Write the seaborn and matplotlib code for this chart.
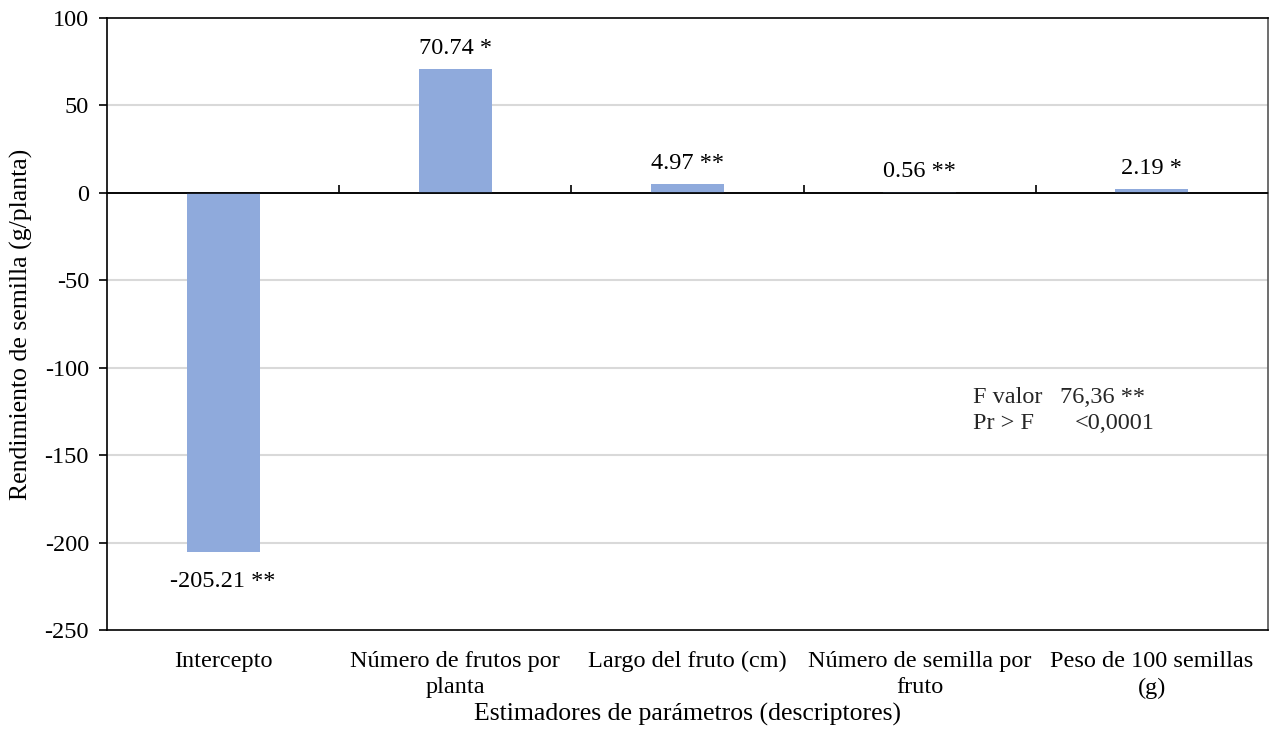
import matplotlib
matplotlib.use("Agg")
import matplotlib.pyplot as plt
import seaborn as sns
import pandas as pd
import numpy as np

# Parameter estimates of the seed-yield regression model
categories = [
    "Intercepto",
    "Número de frutos por\nplanta",
    "Largo del fruto (cm)",
    "Número de semilla por\nfruto",
    "Peso de 100 semillas\n(g)",
]
estimates = [-205.21, 70.74, 4.97, 0.56, 2.19]
significance = ["**", "*", "**", "**", "*"]

y_ticks = [100, 50, 0, -50, -100, -150, -200, -250]

sns.set_theme(style="white")
plt.rcParams["font.family"] = ["Liberation Serif", "DejaVu Serif"]

bar_color = "#8FAADC"
font_size = 17.5
label_size = 18.5

df = pd.DataFrame({"descriptor": categories, "estimate": estimates})

fig = plt.figure(figsize=(12.71, 7.38), dpi=100)
ax = fig.add_axes([0.0842, 0.1463, 0.9134, 0.8293])

# horizontal gridlines behind the bars
for yv in y_ticks:
    if yv not in (0, max(y_ticks), min(y_ticks)):
        ax.axhline(yv, color="#D9D9D9", lw=1.5, zorder=0)

sns.barplot(data=df, x="descriptor", y="estimate", color=bar_color,
            saturation=1, width=0.315, linewidth=0, ax=ax, zorder=2)

ax.set_ylim(min(y_ticks), max(y_ticks))
ax.set_xlim(-0.5, len(categories) - 0.5)
ax.set_yticks(y_ticks)
ax.set_yticklabels([str(t) for t in y_ticks], fontsize=font_size, color="black")
ax.tick_params(axis="y", direction="out", length=6, width=1.2, color="black",
               left=True, pad=7)
ax.tick_params(axis="x", length=0, pad=15, labelsize=font_size, labelcolor="black")
ax.set_xticks(range(len(categories)))
ax.set_xticklabels(categories, fontsize=font_size, linespacing=1.35)

for sp in ax.spines.values():
    sp.set_visible(True)
    sp.set_color("black")
    sp.set_linewidth(1.2)
ax.spines["right"].set_color("#555555")

# zero line drawn over the bars, with category separator ticks
ax.axhline(0, color="black", lw=1.2, zorder=3)
zero_frac = (0 - min(y_ticks)) / (max(y_ticks) - min(y_ticks))
sec = ax.secondary_xaxis(zero_frac)
sec.spines["bottom"].set_visible(False)
sec.set_xticks(np.arange(len(categories) - 1) + 0.5)
sec.set_xticklabels([])
sec.tick_params(axis="x", direction="out", length=6, width=1.2, color="black")

# value labels
for i, (v, s) in enumerate(zip(estimates, significance)):
    label = f"{v:.2f} {s}"
    if v >= 0:
        ax.annotate(label, xy=(i, v), xytext=(0, 7), textcoords="offset points",
                    ha="center", va="bottom", fontsize=font_size, color="black")
    else:
        ax.annotate(label, xy=(i, v), xytext=(0, -14), textcoords="offset points",
                    ha="center", va="top", fontsize=font_size, color="black")

# model fit statistics
ax.text(3.23, -117, "F valor", fontsize=font_size, ha="left", va="center")
ax.text(3.604, -117, "76,36 **", fontsize=font_size, ha="left", va="center")
ax.text(3.23, -132, "Pr > F", fontsize=font_size, ha="left", va="center")
ax.text(3.669, -132, "<0,0001", fontsize=font_size, ha="left", va="center")

ax.set_ylabel("Rendimiento de semilla (g/planta)", fontsize=label_size,
              color="black", labelpad=8)
ax.set_xlabel("Estimadores de parámetros (descriptores)", fontsize=label_size,
              color="black", labelpad=3)

fig.savefig("out.png", dpi=100, facecolor="white")
